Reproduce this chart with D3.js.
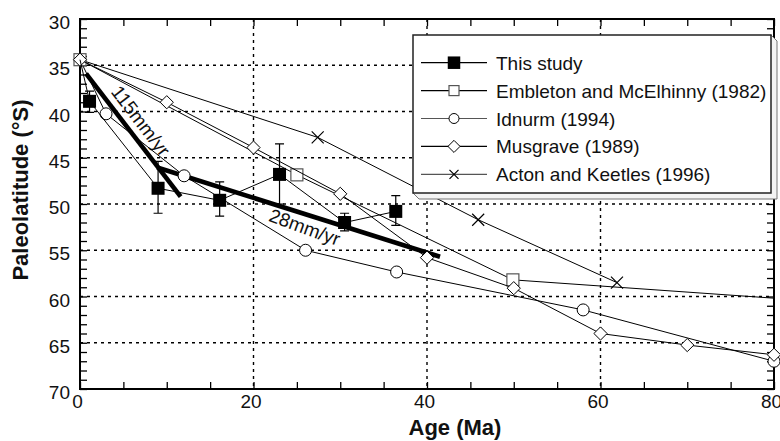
<!DOCTYPE html>
<html>
<head>
<meta charset="utf-8">
<script src="https://cdn.jsdelivr.net/npm/d3@7"></script>
<style>
body{margin:0;background:#fff;}
svg{display:block;font-family:"Liberation Sans",Arial,sans-serif;}
</style>
</head>
<body>
<svg id="chart" width="780" height="441"></svg>
<script>
// present-day pole, every curve starts from it
var startPole = [0, 34.4];

// this study
var thisAge = [1.1, 9.0, 16.1, 23.0, 30.5, 36.4];
var thisLat = [38.9, 48.3, 49.6, 46.8, 52.0, 50.8];
var thisErrTop = [37.8, 45.4, 47.6, 43.5, 51.0, 49.1];
var thisErrBot = [40.1, 51.0, 51.3, 50.0, 52.9, 52.3];

var embletonAge = [25.0, 49.9, 100];
var embletonLat = [46.85, 58.2, 61.5];

var idnurmAge = [3.0, 12.0, 26.0, 36.5, 58.0, 80];
var idnurmLat = [40.25, 46.95, 55.0, 57.35, 61.45, 67.0];

var musgraveAge = [10, 20, 30, 40, 50, 60, 70, 80];
var musgraveLat = [39.0, 43.9, 48.9, 55.8, 59.1, 64.0, 65.25, 66.3];

var actonAge = [27.4, 45.9, 61.9];
var actonLat = [42.8, 51.7, 58.5];

// fitted drift rates
var rate115 = [[0.7, 35.9], [11.6, 49.2]];
var rate28 = [[8.9, 46.05], [41.5, 55.7]];
var rateLabels = ["115mm/yr", "28mm/yr"];
var rateLabelPos = [[7.0, 41.0], [25.9, 52.5]];

var legendNames = ["This study", "Embleton and McElhinny (1982)", "Idnurm (1994)", "Musgrave (1989)", "Acton and Keetles (1996)"];
var legendSymbols = ["fsquare", "square", "circle", "diamond", "cross"];

var xTicks = d3.range(0, 81, 5);
var xLabels = [0, 20, 40, 60, 80];
var yTicks = d3.range(30, 71, 1);
var yLabels = [30, 35, 40, 45, 50, 55, 60, 65, 70];
var xGrid = [20, 40, 60];
var yGrid = [35, 40, 45, 50, 55, 60, 65];

var pLeft = 80, pRight = 774, pTop = 19, pBottom = 389;

var svg = d3.select("#chart");
var x = d3.scaleLinear().domain([0, 80]).range([pLeft, pRight]);
var y = d3.scaleLinear().domain([30, 70]).range([pTop, pBottom]);

svg.append("defs").append("clipPath").attr("id", "plotclip")
	.append("rect").attr("x", pLeft).attr("y", pTop).attr("width", pRight - pLeft).attr("height", pBottom - pTop);

// grid
svg.append("g").selectAll("line").data(xGrid).enter().append("line")
	.attr("x1", d => x(d)).attr("x2", d => x(d)).attr("y1", pTop).attr("y2", pBottom)
	.attr("stroke", "#000").attr("stroke-width", 1.4).attr("stroke-dasharray", "3,4");
svg.append("g").selectAll("line").data(yGrid).enter().append("line")
	.attr("y1", d => y(d)).attr("y2", d => y(d)).attr("x1", pLeft).attr("x2", pRight)
	.attr("stroke", "#000").attr("stroke-width", 1.4).attr("stroke-dasharray", "3,4");

// axes
function styleAxis(g) {
	g.select(".domain").remove();
	g.selectAll(".tick line").attr("stroke", "#000").attr("stroke-width", 1.3);
	g.selectAll("text").attr("font-size", 19).attr("fill", "#111").attr("font-family", "Liberation Sans, Arial, sans-serif");
}
svg.append("g").attr("transform", "translate(0," + pBottom + ")")
	.call(d3.axisBottom(x).tickValues(xTicks).tickSizeInner(-7).tickSizeOuter(0).tickPadding(6)
		.tickFormat(d => xLabels.indexOf(d) >= 0 ? d : ""))
	.call(styleAxis)
	.selectAll("text").attr("dx", -3);
svg.append("g").attr("transform", "translate(0," + pTop + ")")
	.call(d3.axisTop(x).tickValues(xTicks).tickSizeInner(-7).tickSizeOuter(0).tickFormat(""))
	.call(styleAxis);
svg.append("g").attr("transform", "translate(" + pLeft + ",0)")
	.call(d3.axisLeft(y).tickValues(yTicks).tickSizeInner(-7).tickSizeOuter(0).tickPadding(10)
		.tickFormat(d => yLabels.indexOf(d) >= 0 ? d : ""))
	.call(styleAxis)
	.selectAll("text").attr("dy", "0.5em");
svg.append("g").attr("transform", "translate(" + pRight + ",0)")
	.call(d3.axisRight(y).tickValues(yTicks).tickSizeInner(-7).tickSizeOuter(0).tickFormat(""))
	.call(styleAxis);

svg.append("rect").attr("x", pLeft).attr("y", pTop).attr("width", pRight - pLeft).attr("height", pBottom - pTop)
	.attr("fill", "none").attr("stroke", "#000").attr("stroke-width", 2);

// thick rate lines
var line = d3.line().x(d => x(d[0])).y(d => y(d[1]));
svg.append("g").selectAll("path").data([rate115, rate28]).enter().append("path")
	.attr("d", line).attr("fill", "none").attr("stroke", "#000").attr("stroke-width", 4.6);

svg.append("g").selectAll("text").data(rateLabels).enter().append("text")
	.attr("transform", (d, i) => {
		var r = i === 0 ? rate115 : rate28;
		var ang = Math.atan2(y(r[1][1]) - y(r[0][1]), x(r[1][0]) - x(r[0][0])) * 180 / Math.PI;
		return "translate(" + x(rateLabelPos[i][0]) + "," + y(rateLabelPos[i][1]) + ") rotate(" + (ang + (i === 0 ? 0 : 2.5)) + ")";
	})
	.attr("text-anchor", "middle").attr("dy", "0.35em").attr("font-size", 19).attr("fill", "#111")
	.text(d => d);

// symbols
function drawSymbol(g, type, cx, cy, s) {
	if (type === "fsquare") {
		g.append("rect").attr("x", cx - s / 2).attr("y", cy - s / 2).attr("width", s).attr("height", s).attr("fill", "#000");
	} else if (type === "square") {
		g.append("rect").attr("x", cx - s / 2).attr("y", cy - s / 2).attr("width", s).attr("height", s)
			.attr("fill", "#fff").attr("stroke", "#555").attr("stroke-width", 1.2);
	} else if (type === "circle") {
		g.append("circle").attr("cx", cx).attr("cy", cy).attr("r", s / 2)
			.attr("fill", "#fff").attr("stroke", "#000").attr("stroke-width", 1);
	} else if (type === "diamond") {
		var h = s * 0.55;
		g.append("path").attr("d", "M" + cx + "," + (cy - h) + "L" + (cx + h) + "," + cy + "L" + cx + "," + (cy + h) + "L" + (cx - h) + "," + cy + "Z")
			.attr("fill", "#fff").attr("stroke", "#000").attr("stroke-width", 1);
	} else if (type === "cross") {
		var c = s / 2;
		g.append("path").attr("d", "M" + (cx - c) + "," + (cy - c) + "L" + (cx + c) + "," + (cy + c) + "M" + (cx - c) + "," + (cy + c) + "L" + (cx + c) + "," + (cy - c))
			.attr("fill", "none").attr("stroke", "#000").attr("stroke-width", 1.2);
	}
}

function drawSeries(ages, lats, type, size, markStart) {
	var pts = [startPole].concat(ages.map((a, i) => [a, lats[i]]));
	var g = svg.append("g");
	g.append("path").datum(pts).attr("d", line).attr("clip-path", "url(#plotclip)")
		.attr("fill", "none").attr("stroke", "#000").attr("stroke-width", 1);
	var from = markStart ? 0 : 1;
	pts.slice(from).forEach(p => {
		if (p[0] <= 80) drawSymbol(g, type, x(p[0]), y(p[1]), size);
	});
	return g;
}

drawSeries(actonAge, actonLat, "cross", 12, false);
drawSeries(idnurmAge, idnurmLat, "circle", 12, false);
drawSeries(embletonAge, embletonLat, "square", 12, true);
drawSeries(musgraveAge, musgraveLat, "diamond", 12, true);

// this study with error bars
var gThis = svg.append("g");
var pts = [startPole].concat(thisAge.map((a, i) => [a, thisLat[i]]));
gThis.append("path").datum(pts).attr("d", line).attr("fill", "none").attr("stroke", "#000").attr("stroke-width", 1);
thisAge.forEach((a, i) => {
	var cx = x(a);
	gThis.append("path")
		.attr("d", "M" + cx + "," + y(thisErrTop[i]) + "V" + y(thisErrBot[i]) +
			"M" + (cx - 4.5) + "," + y(thisErrTop[i]) + "H" + (cx + 4.5) +
			"M" + (cx - 4.5) + "," + y(thisErrBot[i]) + "H" + (cx + 4.5))
		.attr("fill", "none").attr("stroke", "#000").attr("stroke-width", 1.2);
	drawSymbol(gThis, "fsquare", cx, y(thisLat[i]), 13);
});

// legend
var lx0 = 413, lx1 = 771, ly0 = 35, ly1 = 193, sh = 6;
var leg = svg.append("g");
leg.append("path")
	.attr("d", "M" + lx0 + "," + ly1 + "L" + (lx0 + sh) + "," + (ly1 + sh) + "L" + (lx1 + sh) + "," + (ly1 + sh) +
		"L" + (lx1 + sh) + "," + (ly0 + sh) + "L" + lx1 + "," + ly0 + "Z")
	.attr("fill", "#f4f4f4").attr("stroke", "#777").attr("stroke-width", 1);
leg.append("rect").attr("x", lx0).attr("y", ly0).attr("width", lx1 - lx0).attr("height", ly1 - ly0)
	.attr("fill", "#fff").attr("stroke", "#222").attr("stroke-width", 1.5);
legendNames.forEach((name, i) => {
	var ry = 62.7 + i * 27.9;
	leg.append("line").attr("x1", 421).attr("x2", 487).attr("y1", ry).attr("y2", ry)
		.attr("stroke", i === 2 || i === 4 ? "#555" : "#000").attr("stroke-width", 1.2);
	var sz = [12.5, 10, 10, 11, 9][i];
	drawSymbol(leg, legendSymbols[i], 454, ry, sz);
	leg.append("text").attr("x", 496).attr("y", ry + 7).attr("font-size", 19).attr("fill", "#111").text(name);
});

// axis titles
svg.append("text").attr("x", 455).attr("y", 435).attr("text-anchor", "middle")
	.attr("font-size", 22).attr("font-weight", "bold").attr("fill", "#111").text("Age (Ma)");
svg.append("text").attr("transform", "translate(28,190) rotate(-90)").attr("text-anchor", "middle")
	.attr("font-size", 22).attr("font-weight", "bold").attr("fill", "#111").text("Paleolatitude (°S)");
</script>
</body>
</html>
